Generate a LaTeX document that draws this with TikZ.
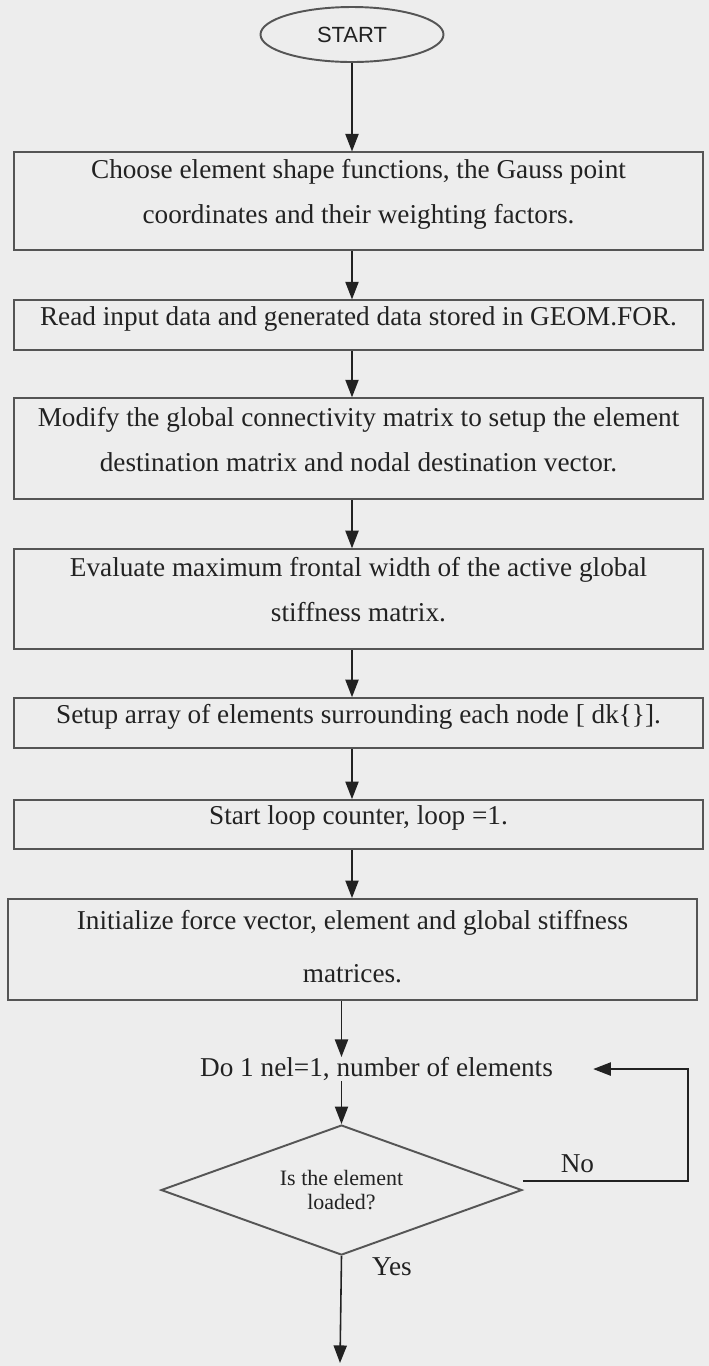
\documentclass[tikz,border=0pt]{standalone}
\usepackage{fontspec}
\setmainfont{Liberation Serif}
\setsansfont{Liberation Sans}
\usetikzlibrary{arrows.meta,positioning,shapes.geometric}

\definecolor{paper}{HTML}{EDEDED}
\definecolor{ink}{HTML}{222222}
\definecolor{rule}{HTML}{555555}

\begin{document}
\begin{tikzpicture}[
  node distance=1cm,
  proc/.style={draw=rule, line width=1.1pt, align=center, minimum width=13.78cm, inner sep=0pt, text depth=11pt, text=ink, font=\fontsize{15.5}{25.5}\selectfont},
  term/.style={draw=rule, ellipse, line width=1.1pt, minimum width=3.66cm, minimum height=1.1cm, inner sep=0pt, text=ink, font=\sffamily\fontsize{12.5}{15}\selectfont},
  decision/.style={draw=rule, diamond, aspect=2.78, line width=1.1pt, minimum width=7.22cm, minimum height=2.6cm, inner sep=0pt, align=center, text=ink, font=\fontsize{12.5}{14}\selectfont},
  plain/.style={inner sep=0pt, text=ink, font=\fontsize{15.5}{18}\selectfont},
  arr/.style={-{Triangle[width=7.5pt,length=10pt]}, line width=0.9pt, draw=ink}
]
\useasboundingbox (0,0) rectangle (14.18,-27.32);
\fill[paper] (0,0) rectangle (14.18,-27.32);

\node[term] (start) at (7.04,-0.69) {START};
\node[proc, minimum height=1.96cm, below=1.77cm of start, xshift=0.13cm] (shape) {Choose element shape functions, the Gauss point\\coordinates and their weighting factors.};
\node[proc, minimum height=1.0cm, below=0.96cm of shape] (read) {Read input data and generated data stored in GEOM.FOR.};
\node[proc, minimum height=2.02cm, below=0.92cm of read] (modify) {Modify the global connectivity matrix to setup the element\\destination matrix and nodal destination vector.};
\node[proc, minimum height=2.0cm, below=0.96cm of modify] (front) {Evaluate maximum frontal width of the active global\\stiffness matrix.};
\node[proc, minimum height=1.0cm, below=0.94cm of front] (surround) {Setup array of elements surrounding each node [ dk\{\}].};
\node[proc, minimum height=0.98cm, below=1.0cm of surround] (counter) {Start loop counter, loop =1.};
\node[proc, minimum height=2.02cm, below=0.96cm of counter, xshift=-0.12cm, text depth=3.5pt, font=\fontsize{15.5}{30}\selectfont] (init) {Initialize force vector, element and global stiffness\\matrices.};
\node[plain, below=1.12cm of init, xshift=0.48cm] (loopdo) {Do 1 nel=1, number of elements};
\node[decision, below=0.86cm of loopdo, xshift=-0.7cm] (loaded) {Is the element\\loaded?};
\coordinate (exit) at (6.8,-27.26);

\draw[arr] (start) -- (start |- shape.north);
\foreach \a/\b in {shape/read, read/modify, modify/front, front/surround, surround/counter, counter/init}
  \draw[arr] (start |- \a.south) -- (start |- \b.north);
\draw[arr] (loaded |- init.south) -- (loaded |- loopdo.north);
\draw[arr] (loaded |- loopdo.south) -- (loaded.north);
\draw[arr] (loaded.south) -- node[plain, pos=0.1, right=0.6cm] {Yes} (exit);
\draw[arr, shorten >=0.8cm] ([yshift=0.18cm]loaded.east) -- node[plain, pos=0.33, above=4pt] {No} ++(3.3,0) |- (loopdo.east);
\end{tikzpicture}
\end{document}
